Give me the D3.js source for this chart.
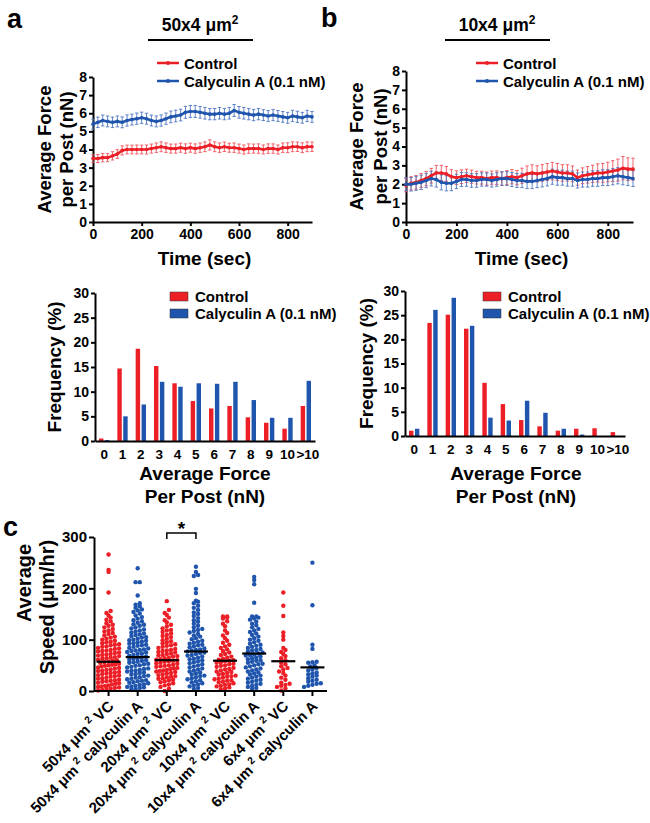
<!DOCTYPE html>
<html><head><meta charset="utf-8">
<script src="https://cdn.jsdelivr.net/npm/d3@7"></script>
<style>body{margin:0;background:#fff}</style>
</head><body>
<svg id="c" width="650" height="823" xmlns="http://www.w3.org/2000/svg"></svg>
<script>
// ---------------- DATA ----------------
const timeSec = [0,20,40,60,80,100,120,140,160,180,200,220,240,260,280,300,320,340,360,380,400,420,440,460,480,500,520,540,560,580,600,620,640,660,680,700,720,740,760,780,800,820,840,860,880,900];
const timeTicks = [0,200,400,600,800];
const forceTicks = [0,1,2,3,4,5,6,7,8];

const aControl = [3.50,3.50,3.55,3.55,3.65,3.75,3.95,4.00,4.00,4.00,4.00,4.00,4.05,4.10,4.15,4.10,4.05,4.05,4.10,4.05,4.10,4.05,4.10,4.15,4.25,4.15,4.10,4.15,4.10,4.10,4.05,4.00,4.05,4.05,4.05,4.00,4.05,4.05,4.00,4.10,4.10,4.15,4.15,4.10,4.15,4.15];
const aControlErr = [0.22,0.22,0.23,0.22,0.23,0.24,0.25,0.24,0.24,0.25,0.24,0.25,0.25,0.26,0.27,0.26,0.25,0.25,0.25,0.26,0.25,0.26,0.26,0.27,0.28,0.27,0.26,0.26,0.25,0.26,0.25,0.25,0.26,0.25,0.26,0.25,0.26,0.26,0.25,0.26,0.27,0.27,0.26,0.27,0.27,0.26];
const aCaly = [5.40,5.50,5.60,5.55,5.50,5.55,5.50,5.60,5.65,5.70,5.75,5.70,5.60,5.55,5.60,5.70,5.80,5.85,5.90,6.05,6.10,6.10,6.05,6.00,5.95,5.95,6.00,5.95,6.00,6.15,6.05,6.00,5.95,5.90,5.95,5.90,5.85,5.90,5.85,5.80,5.75,5.85,5.80,5.75,5.85,5.80];
const aCalyErr = [0.28,0.29,0.30,0.30,0.29,0.30,0.30,0.31,0.30,0.31,0.31,0.30,0.30,0.30,0.31,0.31,0.32,0.32,0.32,0.33,0.33,0.33,0.32,0.32,0.31,0.31,0.32,0.31,0.32,0.33,0.32,0.32,0.31,0.31,0.31,0.30,0.30,0.31,0.30,0.30,0.30,0.31,0.31,0.30,0.31,0.30];

const bControl = [1.95,2.05,2.10,2.20,2.30,2.45,2.60,2.60,2.55,2.40,2.35,2.40,2.45,2.40,2.35,2.35,2.30,2.35,2.35,2.30,2.35,2.40,2.35,2.45,2.55,2.60,2.55,2.60,2.65,2.70,2.65,2.60,2.60,2.55,2.35,2.45,2.50,2.55,2.60,2.60,2.65,2.70,2.75,2.85,2.80,2.80];
const bControlErr = [0.35,0.35,0.36,0.37,0.38,0.39,0.40,0.40,0.39,0.37,0.36,0.36,0.35,0.35,0.34,0.34,0.35,0.35,0.36,0.36,0.37,0.38,0.38,0.40,0.42,0.43,0.43,0.44,0.45,0.46,0.45,0.44,0.43,0.42,0.40,0.42,0.44,0.46,0.48,0.50,0.52,0.55,0.58,0.62,0.60,0.58];
const bCaly = [2.00,2.00,2.05,2.10,2.20,2.30,2.25,2.10,2.05,2.05,2.15,2.25,2.25,2.20,2.20,2.25,2.25,2.20,2.25,2.30,2.30,2.25,2.20,2.20,2.15,2.15,2.20,2.25,2.30,2.40,2.35,2.35,2.30,2.30,2.20,2.25,2.25,2.30,2.30,2.35,2.35,2.40,2.45,2.40,2.35,2.30];
const bCalyErr = [0.35,0.36,0.37,0.38,0.38,0.39,0.40,0.40,0.40,0.39,0.38,0.37,0.36,0.36,0.36,0.35,0.35,0.35,0.36,0.36,0.37,0.37,0.37,0.38,0.38,0.38,0.38,0.39,0.39,0.40,0.40,0.40,0.40,0.40,0.40,0.40,0.40,0.41,0.41,0.42,0.42,0.43,0.43,0.43,0.42,0.42];

const histBins = ["0","1","2","3","4","5","6","7","8","9","10",">10"];
const freqTicks = [0,5,10,15,20,25,30];
const histAControl = [0.5,14.7,18.7,15.2,11.7,8.1,6.6,7.1,4.8,3.7,2.5,7.1];
const histACaly    = [0.2,5.0,7.4,12.0,11.0,11.7,11.6,12.0,8.3,4.7,4.7,12.2];
const histBControl = [1.1,23.4,25.1,22.2,11.0,6.6,3.3,2.0,1.1,1.5,1.6,0.8];
const histBCaly    = [1.5,26.1,28.6,22.8,3.8,3.2,7.3,4.8,1.5,0.3,0,0];

const speedSizes = ["50x4","50x4","20x4","20x4","10x4","10x4","6x4","6x4"];
const speedTreatments = ["VC","calyculin A","VC","calyculin A","VC","calyculin A","VC","calyculin A"];
const speedTicks = [0,100,200,300];
const speed50VC = [1,2,4,5,6,7,8,9,10,11,13,14,15,16,18,19,20,21,22,24,25,26,28,29,30,31,33,34,35,36,37,39,40,41,42,44,45,46,48,49,50,51,52,53,55,56,57,59,60,61,63,64,65,66,68,69,70,71,72,74,75,77,78,79,80,82,83,84,86,87,89,90,91,93,95,96,98,100,102,104,106,108,111,113,116,118,121,124,127,129,132,136,139,143,147,152,156,192,232,236,266];
const speed50Caly = [3,4,6,7,8,9,10,12,13,15,16,17,19,20,21,23,24,26,27,29,30,32,33,35,36,38,39,40,41,43,44,46,47,49,50,52,53,55,56,57,59,60,61,63,64,66,67,69,70,72,73,75,76,78,79,80,81,83,84,86,88,89,90,92,93,95,96,98,99,100,102,104,105,107,109,110,112,114,116,118,120,122,124,127,129,130,133,136,138,141,144,147,151,154,157,159,162,165,168,171,186,212,212,239];
const speed20VC = [0,5,8,11,13,15,17,19,21,22,24,25,27,28,29,31,32,34,35,37,38,39,40,41,43,44,45,47,48,49,50,51,53,54,55,57,58,59,60,61,62,64,65,67,68,69,70,72,73,75,76,78,79,80,82,84,86,88,89,91,93,95,97,99,102,105,107,109,112,115,118,119,122,126,129,134,138,143,148,152,158,175];
const speed20Caly = [4,6,9,11,13,15,17,19,21,23,25,27,29,30,32,34,36,38,40,42,44,46,48,50,52,54,56,58,60,62,63,65,67,69,70,72,74,75,77,79,80,81,83,85,87,89,90,92,94,96,98,101,103,106,108,111,114,117,119,121,124,127,131,135,138,142,146,150,153,158,162,166,171,174,176,191,199,224,226,232,242];
const speed10VC = [3,5,7,9,10,12,13,15,17,18,20,21,23,24,26,28,29,30,32,33,35,37,38,40,42,43,45,47,49,50,52,53,55,56,58,59,60,61,63,65,67,70,72,75,78,81,84,87,90,94,98,103,108,113,118,126,131,136,141,143,145,145];
const speed10Caly = [4,6,8,10,12,14,16,18,20,22,24,26,28,30,32,34,36,38,40,42,44,46,48,50,52,53,55,57,59,60,62,64,65,67,69,70,71,73,75,77,79,80,82,84,86,88,90,92,95,98,100,103,106,109,112,115,118,121,124,128,131,135,139,141,143,145,145,172,208,216,222];
const speed6VC = [1,5,8,10,12,14,16,22,26,30,35,38,42,45,48,52,55,60,64,68,72,76,80,84,100,107,114,146,166,192];
const speed6Caly = [8,10,12,14,15,18,20,22,25,28,30,32,34,36,40,42,45,48,50,55,56,57,82,90,167,250];
const speedGroupValues = [speed50VC,speed50Caly,speed20VC,speed20Caly,speed10VC,speed10Caly,speed6VC,speed6Caly];
const speedMeans = [57,66,60,77,59,73,58,46];

// ---------------- DRAW ----------------
const FONT = "'Liberation Sans', Arial, Helvetica, sans-serif";
const RED = "#ec1f27", BLUE = "#1f55ad", RED_L = "#f0555b", BLUE_L = "#4f77c2";
const svg = d3.select("#c").attr("font-family", FONT).attr("font-weight","bold");
svg.append("rect").attr("width",650).attr("height",823).attr("fill","#fff");

function styleAxis(g, fs){
  g.attr("font-family", FONT);
  g.select(".domain").attr("stroke","#000").attr("stroke-width",2);
  g.selectAll(".tick line").attr("stroke","#000").attr("stroke-width",2);
  g.selectAll(".tick text").attr("font-size",fs).attr("font-weight","bold").attr("fill","#000");
}
function text(x,y,str,fs,anchor="start",rot=0){
  const t = svg.append("text").attr("font-size",fs).attr("font-weight","bold").attr("text-anchor",anchor)
    .attr("transform",`translate(${x},${y})`+(rot?` rotate(${rot})`:""));
  t.text(str); return t;
}
function supText(x,y,base,sup,tail,fs,anchor,rot){
  const t = svg.append("text").attr("font-size",fs).attr("font-weight","bold").attr("text-anchor",anchor)
    .attr("transform",`translate(${x},${y})`+(rot?` rotate(${rot})`:""));
  t.append("tspan").text(base);
  t.append("tspan").attr("font-size",fs*0.68).attr("dy",-fs*0.42).text(sup);
  if(tail) t.append("tspan").attr("dy",fs*0.42).text(tail);
  return t;
}

// panel letters & headers
text(7,28,"a",27);
text(321,27,"b",27);
text(3,536,"c",27);
supText(200,31,"50x4 μm","2","",17.5,"middle");
svg.append("line").attr("x1",148).attr("x2",253).attr("y1",40).attr("y2",40).attr("stroke","#000").attr("stroke-width",2);
supText(497,31,"10x4 μm","2","",17.5,"middle");
svg.append("line").attr("x1",445).attr("x2",550).attr("y1",40).attr("y2",40).attr("stroke","#000").attr("stroke-width",2);

// ---- time series panels ----
function timePanel(cfg){
  const x = d3.scaleLinear([0,900], cfg.xr);
  const y = d3.scaleLinear([0,8], cfg.yr);
  const g = svg.append("g");
  const ya = g.append("g").attr("transform",`translate(${cfg.xr[0]},0)`)
    .call(d3.axisLeft(y).tickValues(forceTicks).tickFormat(d3.format("d")).tickSize(4).tickSizeOuter(0).tickPadding(2));
  styleAxis(ya,14);
  const xa = g.append("g").attr("transform",`translate(0,${cfg.yr[0]})`)
    .call(d3.axisBottom(x).tickValues(timeTicks).tickFormat(d3.format("d")).tickSize(4).tickSizeOuter(0).tickPadding(3));
  styleAxis(xa,14);
  const series = [
    {v:cfg.control, e:cfg.controlErr, c:RED, cl:RED_L},
    {v:cfg.caly, e:cfg.calyErr, c:BLUE, cl:BLUE_L}
  ];
  series.forEach(s=>{
    const pts = timeSec.map((t,i)=>({t, v:s.v[i], e:s.e[i]}));
    g.append("g").selectAll("path").data(pts).join("path")
      .attr("d",d=>{const X=x(d.t), y1=y(d.v+d.e), y2=y(d.v-d.e);
        return `M${X},${y1}V${y2}M${X-1.7},${y1}h3.4M${X-1.7},${y2}h3.4`;})
      .attr("stroke",s.cl).attr("stroke-width",0.9).attr("fill","none");
  });
  series.forEach(s=>{
    const pts = timeSec.map((t,i)=>({t, v:s.v[i]}));
    g.append("path").datum(pts).attr("d",d3.line().x(d=>x(d.t)).y(d=>y(d.v)))
      .attr("stroke",s.c).attr("stroke-width",2.6).attr("fill","none");
    g.append("g").selectAll("circle").data(pts).join("circle")
      .attr("cx",d=>x(d.t)).attr("cy",d=>y(d.v)).attr("r",1.8).attr("fill",s.c);
  });
  // legend
  const L = cfg.leg;
  [["Control",RED],["Calyculin A (0.1 nM)",BLUE]].forEach((d,i)=>{
    const yy = L.y + i*18;
    g.append("line").attr("x1",L.x).attr("x2",L.x+22).attr("y1",yy).attr("y2",yy).attr("stroke",d[1]).attr("stroke-width",2.5);
    g.append("circle").attr("cx",L.x+11).attr("cy",yy).attr("r",2).attr("fill",d[1]);
    text(L.x+27,yy+5.5,d[0],15);
  });
  // y label
  const cy = (cfg.yr[0]+cfg.yr[1])/2;
  text(cfg.ylab[0],cy,"Average Force",18.5,"middle",-90);
  text(cfg.ylab[1],cy,"per Post  (nN)",18.5,"middle",-90);
  text((cfg.xr[0]+cfg.xr[1])/2+2,265,"Time (sec)",19,"middle");
}
timePanel({xr:[93,312], yr:[222,77], control:aControl, controlErr:aControlErr, caly:aCaly, calyErr:aCalyErr, leg:{x:157,y:63}, ylab:[51,73]});
timePanel({xr:[406,633], yr:[222,71], control:bControl, controlErr:bControlErr, caly:bCaly, calyErr:bCalyErr, leg:{x:476,y:63}, ylab:[363,387]});

// ---- histograms ----
function histPanel(cfg){
  const x = d3.scaleBand(histBins, cfg.xr);
  const sub = d3.scaleBand(["c","k"],[0,x.bandwidth()]).paddingInner(0.25).paddingOuter(0.68);
  const y = d3.scaleLinear([0,30], cfg.yr);
  const g = svg.append("g");
  const rows = histBins.map((b,i)=>({b, c:cfg.control[i], k:cfg.caly[i]}));
  [["c",RED],["k",BLUE]].forEach(([key,col])=>{
    g.append("g").selectAll("rect").data(rows).join("rect")
      .attr("x",d=>x(d.b)+sub(key)).attr("width",sub.bandwidth())
      .attr("y",d=>y(d[key])).attr("height",d=>y(0)-y(d[key])).attr("fill",col);
  });
  const ya = g.append("g").attr("transform",`translate(${cfg.xr[0]},0)`)
    .call(d3.axisLeft(y).tickValues(freqTicks).tickSize(4).tickSizeOuter(0).tickPadding(2));
  styleAxis(ya,14);
  const xa = g.append("g").attr("transform",`translate(0,${cfg.yr[0]})`)
    .call(d3.axisBottom(x).tickSize(0).tickSizeOuter(0).tickPadding(8));
  styleAxis(xa,13.5);
  xa.selectAll(".tick text").filter(d=>d===">10").attr("dx",2);
  // legend
  [["Control",RED],["Calyculin A (0.1 nM)",BLUE]].forEach((d,i)=>{
    const yy = cfg.leg.y + i*17;
    g.append("rect").attr("x",cfg.leg.x).attr("y",yy).attr("width",18).attr("height",9).attr("fill",d[1]).attr("stroke","#333").attr("stroke-width",0.5);
    text(cfg.leg.x+25,yy+10,d[0],15);
  });
  text(cfg.ylab,(cfg.yr[0]+cfg.yr[1])/2,"Frequency  (%)",19,"middle",-90);
  text(cfg.tx,480,"Average Force",19,"middle");
  text(cfg.tx,503,"Per Post (nN)",19,"middle");
}
histPanel({xr:[95,315], yr:[441,293], control:histAControl, caly:histACaly, leg:{x:170,y:292}, ylab:61, tx:205});
histPanel({xr:[405,625], yr:[436,291], control:histBControl, caly:histBCaly, leg:{x:483,y:292}, ylab:373, tx:516});

// ---- speed scatter ----
(function(){
  const cats = speedSizes.map((s,i)=>s+"|"+speedTreatments[i]);
  const x = d3.scaleBand(cats,[94,327]);
  const y = d3.scaleLinear([0,300],[691,537]);
  const g = svg.append("g");
  const rowH = 3.9, sp = 4.2, half = 10.5;
  speedGroupValues.forEach((vals,gi)=>{
    const cx = x(cats[gi]) + x.bandwidth()/2;
    const col = speedTreatments[gi]==="VC" ? RED : BLUE;
    const sorted = [...vals].sort((a,b)=>a-b);
    const rows = d3.group(sorted, v=>Math.floor((y(0)-y(v))/rowH));
    const pts = [];
    for(const [k,arr] of rows){
      const n = arr.length;
      const s = n>1 ? Math.min(sp, 2*half/(n-1)) : 0;
      arr.forEach((v,i)=>pts.push({v, px: cx + (i-(n-1)/2)*s}));
    }
    g.append("g").selectAll("circle").data(pts).join("circle")
      .attr("cx",d=>d.px).attr("cy",d=>y(d.v)).attr("r",2.2).attr("fill",col);
    g.append("line").attr("x1",cx-12).attr("x2",cx+12).attr("y1",y(speedMeans[gi])).attr("y2",y(speedMeans[gi]))
      .attr("stroke","#000").attr("stroke-width",2.2);
  });
  const ya = g.append("g").attr("transform",`translate(94,0)`)
    .call(d3.axisLeft(y).tickValues(speedTicks).tickSize(5).tickSizeOuter(0).tickPadding(2));
  styleAxis(ya,15);
  const xa = g.append("g").attr("transform",`translate(0,691)`)
    .call(d3.axisBottom(x).tickSize(5).tickSizeOuter(0).tickFormat(""));
  styleAxis(xa,14);
  xa.select(".domain").attr("d","M94,0H327");
  // rotated labels
  cats.forEach((c,i)=>{
    const cx = x(c) + x.bandwidth()/2;
    supText(cx+6,707,speedSizes[i]+" μm"," 2"," "+speedTreatments[i],15,"end",-45);
  });
  // significance bracket
  const x3 = x(cats[2]) + x.bandwidth()/2, x4 = x(cats[3]) + x.bandwidth()/2;
  g.append("path").attr("d",`M${x3},539V533H${x4}V539`).attr("stroke","#000").attr("stroke-width",1.5).attr("fill","none");
  text((x3+x4)/2,535,"*",19,"middle");
  text(31,583,"Average",20,"middle",-90);
  text(54,607,"Speed  (μm/hr)",20,"middle",-90);
})();
</script>
</body></html>
